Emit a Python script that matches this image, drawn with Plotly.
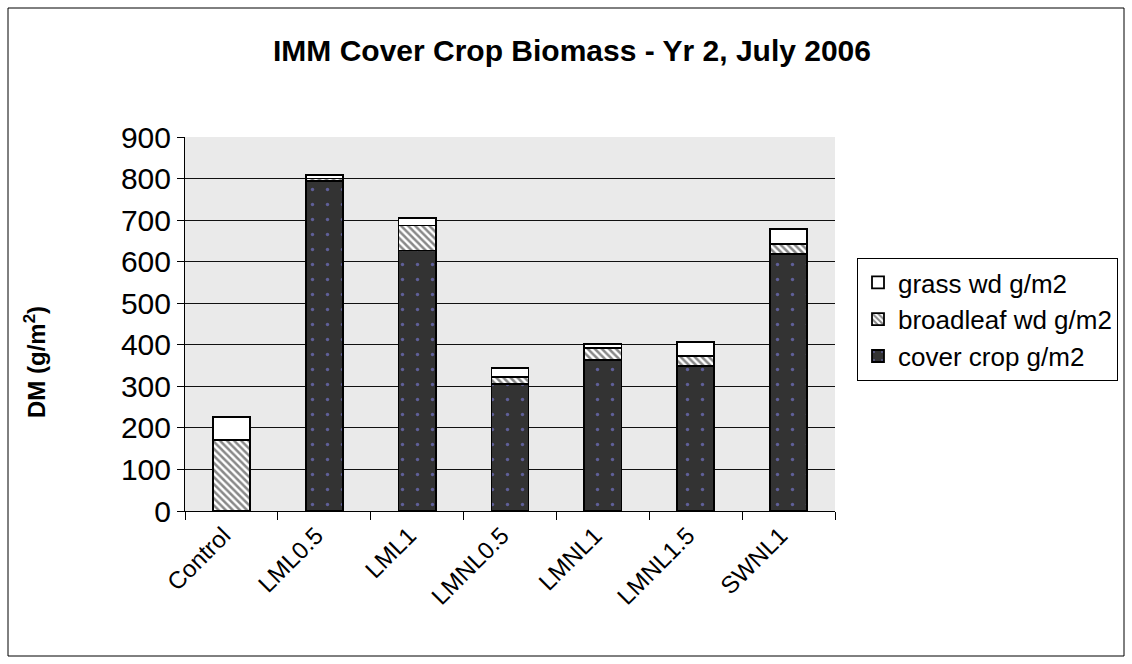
import plotly.graph_objects as go

categories = ["Control", "LML0.5", "LML1", "LMNL0.5", "LMNL1", "LMNL1.5", "SWNL1"]
cover_crop = [0, 795, 627, 305, 363, 349, 619]
broadleaf_wd = [170, 5, 60, 18, 29, 24, 23]
grass_wd = [57, 8, 19, 22, 10, 33, 36]
y_ticks = [0, 100, 200, 300, 400, 500, 600, 700, 800, 900]

W, H = 1132, 664
L, R, T, B = 185, 297, 137, 153
pw, ph = W - L - R, H - T - B

def px_x(p):
    return (p - L) / pw

def px_y(p):
    return (H - B - p) / ph

FONT = "Liberation Sans, Arial, sans-serif"

fig = go.Figure()
line = dict(color="black", width=1.8)
fig.add_trace(go.Bar(
    x=categories, y=cover_crop, name="cover crop g/m2",
    marker=dict(color="#333333", line=line,
                pattern=dict(shape=".", fgcolor="#8c8cff", bgcolor="#333333",
                             size=15, solidity=0.04)),
))
fig.add_trace(go.Bar(
    x=categories, y=broadleaf_wd, name="broadleaf wd g/m2",
    marker=dict(color="white", line=line,
                pattern=dict(shape="\\", fgcolor="#111111", bgcolor="white",
                             size=5, solidity=0.5)),
))
fig.add_trace(go.Bar(
    x=categories, y=grass_wd, name="grass wd g/m2",
    marker=dict(color="white", line=line),
))

fig.update_layout(
    width=W, height=H,
    barmode="stack", bargap=0.6,
    paper_bgcolor="white", plot_bgcolor="#eaeaea",
    margin=dict(l=L, r=R, t=T, b=B, autoexpand=False),
    font=dict(family=FONT, color="black"),
    title=dict(text="<b>IMM Cover Crop Biomass - Yr 2, July 2006</b>",
               font=dict(size=30, family=FONT),
               x=572 / W, xanchor="center",
               y=1 - 50 / H, yanchor="middle"),
    legend=dict(x=px_x(857), y=px_y(258), xanchor="left", yanchor="top",
                traceorder="reversed", bgcolor="white", bordercolor="black",
                borderwidth=1, font=dict(size=26),
                itemwidth=30, tracegroupgap=0),
    annotations=[dict(text="<b>DM (g/m<sup>2</sup>)</b>", textangle=-90,
                      xref="paper", yref="paper", x=px_x(35), y=px_y(362),
                      xanchor="center", yanchor="middle", showarrow=False,
                      font=dict(size=24, family=FONT))],
)
fig.update_yaxes(
    range=[0, 900], tickvals=y_ticks, ticktext=[str(v) for v in y_ticks],
    showgrid=True, gridcolor="#111111", gridwidth=1,
    showline=True, linecolor="black", linewidth=1,
    ticks="outside", ticklen=7, tickcolor="black",
    tickfont=dict(size=30), zeroline=False,
)
fig.update_xaxes(
    showline=True, linecolor="black", linewidth=1,
    ticks="outside", ticklen=8, tickcolor="black", tickson="boundaries",
    tickangle=-45, tickfont=dict(size=24), ticklabelshift=-8,
    showgrid=False,
)
fig.add_shape(type="rect", xref="paper", yref="paper",
              x0=px_x(8), x1=px_x(1124), y0=px_y(656), y1=px_y(8),
              line=dict(color="black", width=1), layer="below")

fig.write_html("out.html", config={"displayModeBar": False},
               post_script="document.body.style.margin='0px';document.body.style.overflow='hidden';")
